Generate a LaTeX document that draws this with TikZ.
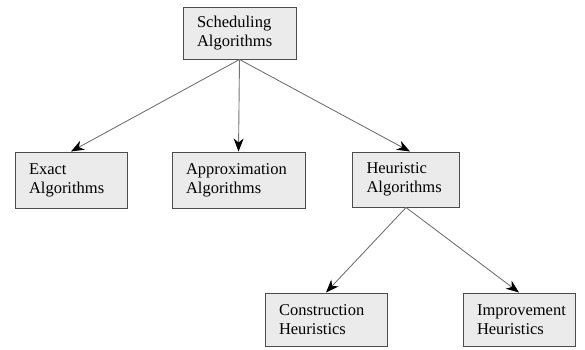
\documentclass[tikz,border=0pt]{standalone}
\usepackage{fontspec}
\setmainfont{Liberation Serif}
\usetikzlibrary{arrows.meta}
\tikzset{
  algbox/.style={draw=black!70, fill=black!8, line width=1pt, inner xsep=14pt,
    inner ysep=0pt, align=left, font=\fontsize{16.5}{19}\selectfont},
  link/.style={draw=black!55, line width=0.9pt,
    -{Stealth[length=13pt,width=10pt,inset=4pt,black]}}
}
\begin{document}
\begin{tikzpicture}[x=1pt,y=-1pt]
      \useasboundingbox (0,0) rectangle (585,349);
      \node[algbox, text width=85pt, minimum height=52pt] (sched) at (239.5,33) {Scheduling\\Algorithms};
      \node[algbox, text width=84pt, minimum height=56pt] (exact) at (71,180) {Exact\\Algorithms};
      \node[algbox, text width=105pt, minimum height=56pt] (approx) at (238.5,180) {Approximation\\Algorithms};
      \node[algbox, text width=79pt, minimum height=55pt] (heur) at (406,179.5) {Heuristic\\Algorithms};
      \node[algbox, text width=94pt, minimum height=53pt] (constr) at (326,319.5) {Construction\\Heuristics};
      \node[algbox, text width=84pt, minimum height=53pt] (improv) at (519,319.5) {Improvement\\Heuristics};
      \begin{scope}[link]
        \draw (sched.south) to (exact.north);
        \draw (sched.south) to (approx.north);
        \draw (sched.south) to ([xshift=4pt]heur.north);
        \draw (heur.south) to (constr.north);
        \draw (heur.south) to (improv.north);
      \end{scope}
    \end{tikzpicture}
\end{document}
